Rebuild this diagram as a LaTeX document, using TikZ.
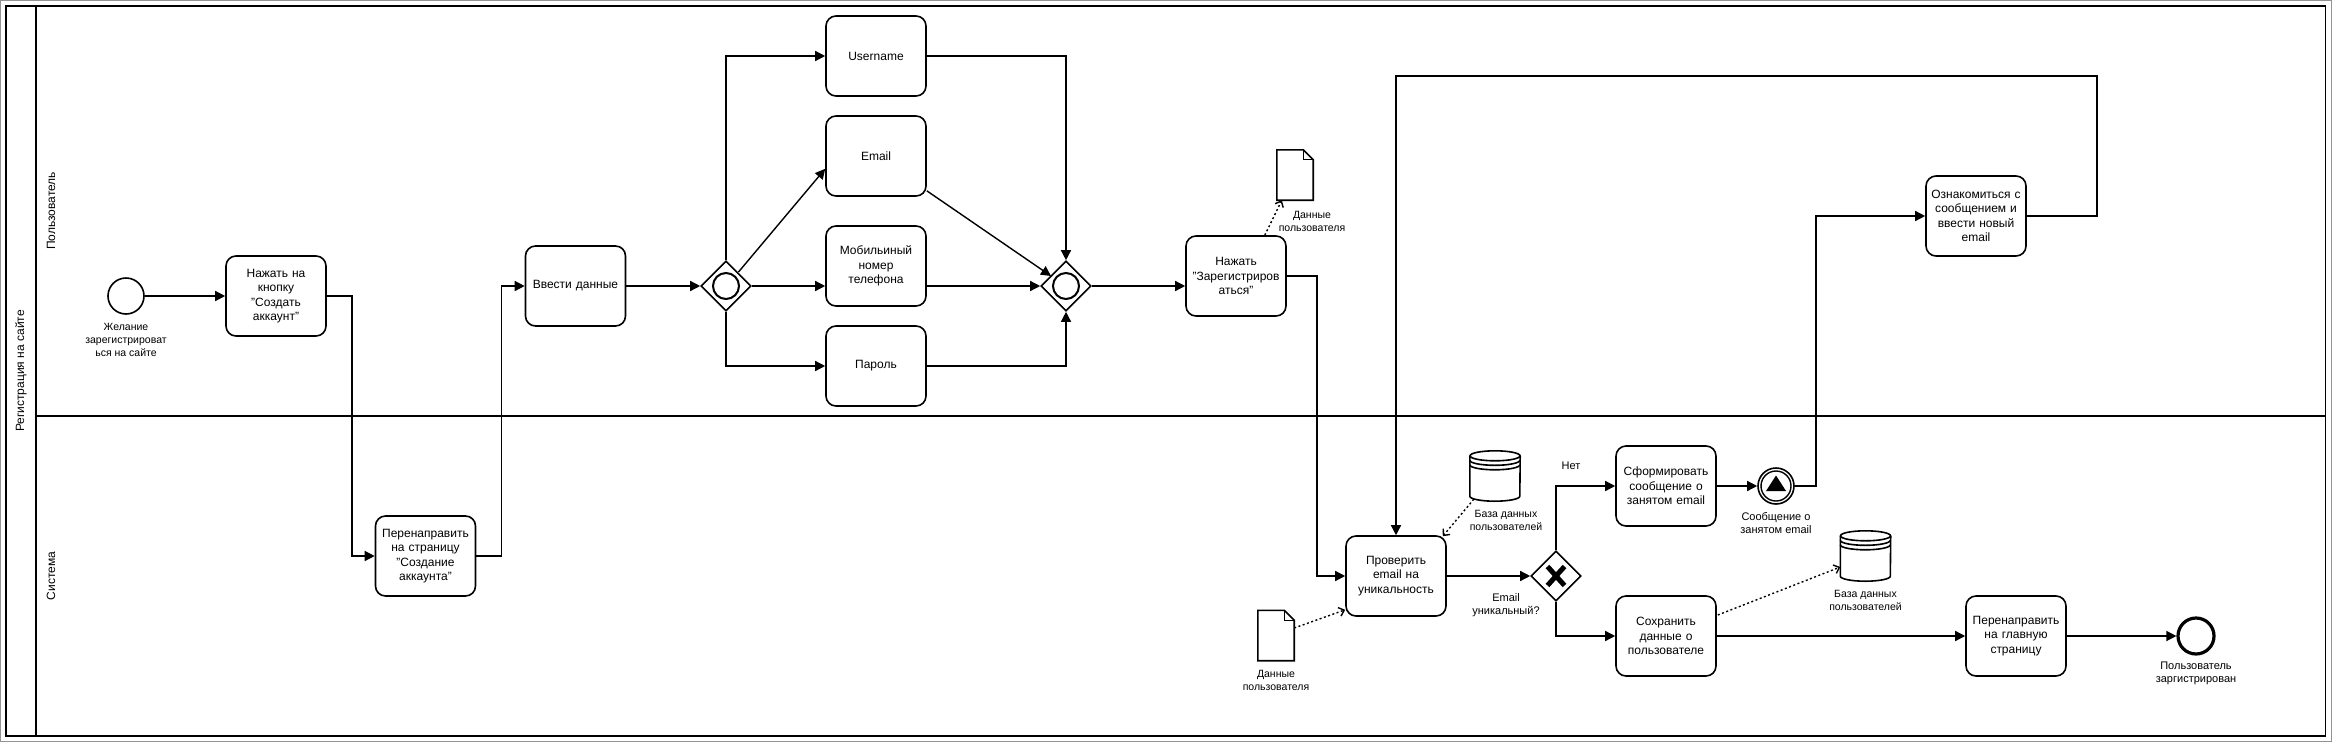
\documentclass[tikz,border=0pt]{standalone}
\usepackage{fontspec}
\setmainfont{Liberation Sans}
\usetikzlibrary{arrows.meta,calc,shapes.geometric}
\newcommand\fsTask{\fontsize{12}{14.4}\selectfont}
\newcommand\fsLbl{\fontsize{10.5}{13}\selectfont}
\newcommand\fsEv{\fontsize{11}{13}\selectfont}
\tikzset{
  shp/.style={line width=1.6pt},
  task/.style={draw, line width=1.6pt, rounded corners=10pt, minimum width=100pt, minimum height=80pt, align=center, font=\fsTask, inner sep=1pt, text width=96pt},
  gate/.style={draw, diamond, line width=1.6pt, minimum width=50pt, minimum height=50pt, inner sep=0pt},
  evt/.style={draw, circle, minimum size=36pt, inner sep=0pt},
  flow/.style={line width=1.4pt, -{Triangle[length=10pt,width=10pt]}},
  assoc/.style={line width=1.4pt, dash pattern=on 2pt off 2.5pt, -{Straight Barb[length=5pt,width=9pt]}},
  lbl/.style={align=center, font=\fsLbl, inner sep=0pt},
  evlbl/.style={align=center, font=\fsEv, inner sep=0pt},
  box/.style={minimum width=#1, inner sep=0pt, draw=none},
}
\newcommand\dbshape[1]{%
  \draw[shp] ($(#1.north)+(0,5)$) ellipse [x radius=25, y radius=5];
  \draw[shp] ($(#1.north west)+(0,5)$) -- ($(#1.south west)+(0,-5)$) arc[start angle=180, end angle=0, x radius=25, y radius=5] -- ($(#1.north east)+(0,5)$);
  \draw[shp] ($(#1.north west)+(0,9.5)$) arc[start angle=180, end angle=0, x radius=25, y radius=5];
  \draw[shp] ($(#1.north west)+(0,14)$) arc[start angle=180, end angle=0, x radius=25, y radius=5];
}
\newcommand\docshape[1]{%
  \draw[shp, line join=miter] (#1.north west) -- ($(#1.north east)+(-10,0)$) -- ($(#1.north east)+(0,10)$) -- (#1.south east) -- (#1.south west) -- cycle;
  \draw[line width=1pt] ($(#1.north east)+(-10,0)$) -- ($(#1.north east)+(-10,10)$) -- ($(#1.north east)+(0,10)$);
}
\begin{document}
\begin{tikzpicture}[x=1pt,y=-1pt]
\useasboundingbox (0,0) rectangle (2332,742);
% frame
\draw[gray!85, line width=1.2pt] (0.6,0.6) rectangle (2331.4,741.4);
\draw[line width=1.8pt] (6,6) rectangle (2325.5,736);
\draw[line width=1.8pt] (36,6) -- (36,736);
\draw[line width=1.8pt] (36,416) -- (2325.5,416);
\node[rotate=90, font=\fsTask] (poolname) at (21,371) {Регистрация на сайте};
\node[rotate=90, font=\fsTask] (lane1) at (51,211) {Пользователь};
\node[rotate=90, font=\fsTask] (lane2) at (51,576) {Система};

% lane 1
\node[evt, line width=1.6pt] (start) at (126,296) {};
\node[lbl] (startlbl) at (126,340) {Желание\\зарегистрироват\\ься на сайте};
\node[task] (t1) at (276,296) {Нажать на\\кнопку\\"Создать\\аккаунт"};
\node[task] (t3) at (575.5,286) {Ввести данные};
\node[gate] (g1) at (726,286) {};
\draw[line width=2pt] (g1) circle[radius=13];
\node[task] (u) at (876,56) {Username};
\node[task] (e) at (876,156) {Email};
\node[task] (m) at (876,266) {Мобильиный\\номер\\телефона};
\node[task] (p) at (876,366) {Пароль};
\node[gate] (g2) at (1066,286) {};
\draw[line width=2pt] (g2) circle[radius=13];
\node[task] (r) at (1236,276) {Нажать\\"Зарегистриров\\аться"};
\node[box=36pt, minimum height=50pt] (d1) at (1295,175) {};
\docshape{d1}
\node[lbl] (d1lbl) at (1312,221) {Данные\\пользователя};
\node[task] (o) at (1976,216) {Ознакомиться с\\сообщением и\\ввести новый\\email};

% lane 2
\node[task] (t2) at (425.5,556) {Перенаправить\\на страницу\\"Создание\\аккаунта"};
\node[task] (c) at (1396,576) {Проверить\\email на\\уникальность};
\node[box=50pt, minimum height=50pt] (db1) at (1495,476) {};
\dbshape{db1}
\node[lbl] (db1lbl) at (1506,520.5) {База данных\\пользователей};
\node[box=36pt, minimum height=50pt] (d2) at (1276,635.5) {};
\docshape{d2}
\node[lbl] (d2lbl) at (1276,680.5) {Данные\\пользователя};
\node[gate] (x) at (1556,576) {};
\draw[line width=5pt] ($(x)+(-8.5,-9.5)$) -- ($(x)+(8.5,9.5)$);
\draw[line width=5pt] ($(x)+(8.5,-9.5)$) -- ($(x)+(-8.5,9.5)$);
\node[evlbl] (xlbl) at (1506,605) {Email\\уникальный?};
\node[evlbl] (netlbl) at (1571,466) {Нет};
\node[task] (f) at (1666,486) {Сформировать\\сообщение о\\занятом email};
\node[task] (s) at (1666,636) {Сохранить\\данные о\\пользователе};
\node[evt, line width=1.6pt] (ev) at (1776,486) {};
\draw[line width=1.4pt] (ev) circle[radius=15];
\fill ($(ev)+(0,-10.5)$) -- ($(ev)+(-10,5)$) -- ($(ev)+(10,5)$) -- cycle;
\node[evlbl] (evlbl) at (1776,523.5) {Сообщение о\\занятом email};
\node[box=50pt, minimum height=50pt] (db2) at (1865.5,556) {};
\dbshape{db2}
\node[lbl] (db2lbl) at (1865.5,600.5) {База данных\\пользователей};
\node[task] (h) at (2016,636) {Перенаправить\\на главную\\страницу};
\node[evt, line width=3.2pt] (end) at (2196,636) {};
\node[evlbl] (endlbl) at (2196,673.5) {Пользователь\\заргистрирован};

% flows
\draw[flow] (start) -- (t1);
\draw[flow] (t1.east) -- ++(25,0) |- (t2.west);
\draw[flow] (t2.east) -- ++(25,0) |- (t3.west);
\draw[flow] (t3.east) -- (g1.west);
\draw[flow] (g1.north) |- (u.west);
\draw[flow] ($(g1)+(12.5,-14)$) -- ($(e.south west)+(0,-28)$);
\draw[flow] (g1.east) -- (g1.east -| m.west);
\draw[flow] (g1.south) |- (p.west);
\draw[flow] (u.east) -| (g2.north);
\draw[flow] ($(e.south east)+(0,-6)$) -- ($(g2)+(-15,-10)$);
\draw[flow] (m.east |- g2.west) -- (g2.west);
\draw[flow] (p.east) -| (g2.south);
\draw[flow] (g2.east) -- (g2.east -| r.west);
\draw[assoc] ($(r.north east)+(-22,0)$) -- ($(d1.south west)+(5,0)$);
\draw[flow] (r.east) -- ++(30,0) |- (c.west);
\draw[flow] (o.east) -| ++(70,-140) -| (c.north);
\draw[assoc] ($(db1.south west)+(4,-2)$) -- ($(c.north east)+(-4,1)$);
\draw[assoc] ($(d2.east)+(0,-7.5)$) -- ($(c.south west)+(0,-7)$);
\draw[flow] (c.east) -- (x.west);
\draw[flow] (x.north) |- (f.west);
\draw[flow] (x.south) |- (s.west);
\draw[flow] (f.east) -- (ev.west);
\draw[flow] (ev.east) -- ++(21,0) |- (o.west);
\draw[flow] (s.east) -- (h.west);
\draw[assoc] ($(s.east)+(1,-21)$) -- ($(db2.west)+(0,11)$);
\draw[flow] (h.east) -- (end.west);
\end{tikzpicture}
\end{document}
